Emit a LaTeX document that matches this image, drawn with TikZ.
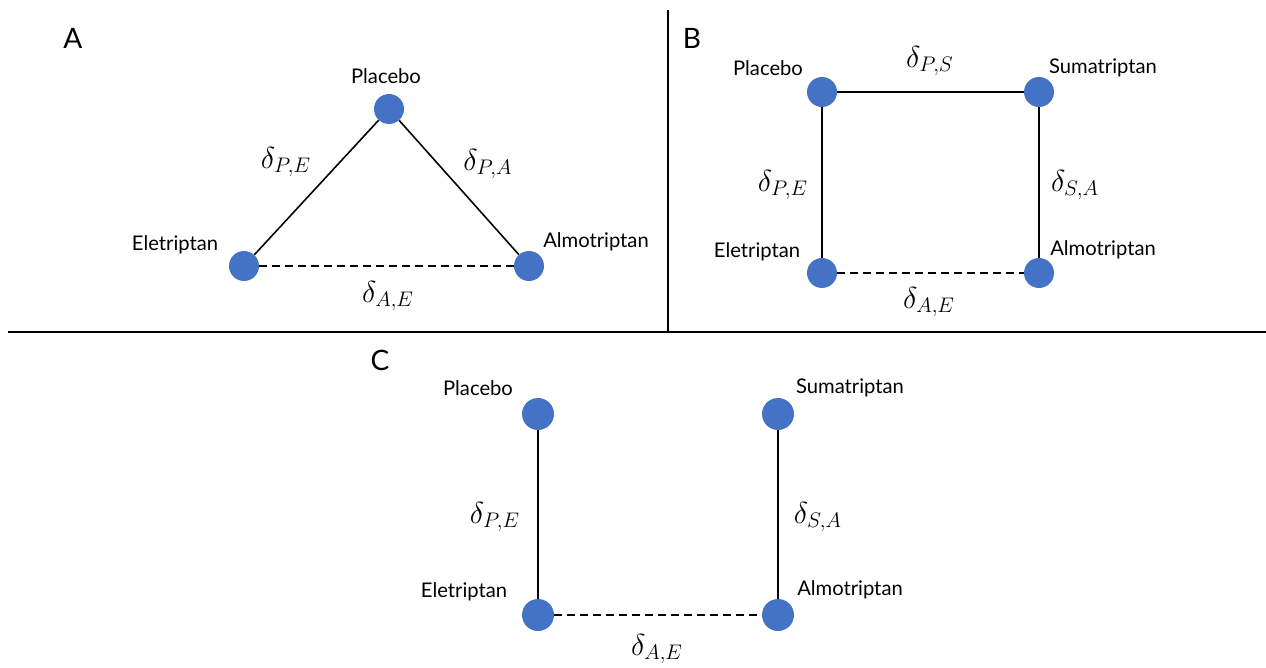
\documentclass[tikz,border=0pt]{standalone}
\usepackage{fontspec}
\setmainfont{Lato}
\usepackage{amsmath}
\usetikzlibrary{shapes.geometric, positioning}
\definecolor{NodeBlue}{RGB}{68,114,196}

\tikzset{
	drug/.style={circle, fill=NodeBlue, minimum size=0.6cm, inner sep=0pt},
	drugC/.style={circle, fill=NodeBlue, minimum size=0.64cm, inner sep=0pt},
	druglabel/.style={font=\fontsize{11.5}{13}\selectfont},
	delta/.style={font=\fontsize{16.5}{18}\selectfont},
	panel/.style={font=\fontsize{16}{18}\selectfont},
	link/.style={draw=black, line width=0.9pt},
	missing/.style={draw=black, line width=0.9pt, dash pattern=on 0.16cm off 0.1cm},
}

\begin{document}
\begin{tikzpicture}[x=0.02cm, y=-0.02cm]
	\useasboundingbox (0,0) rectangle (1266,668);
	% separadores
	\coordinate (vtop) at (668,10);
	\coordinate (vbot) at (668,332);
	\coordinate (hl) at (8,332);
	\coordinate (hr) at (1266,332);
	\draw[line width=1pt] (vtop) -- (vbot);
	\draw[line width=1pt] (hl) -- (hr);
	% panel A
	\node[panel] (lblA) at (73,38) {A};
	\node[drug] (pA) at (389,109) {};
	\node[drug] (eA) at (244,266) {};
	\node[drug] (aA) at (529,266) {};
	\node[druglabel] (tpA) at (386,76) {Placebo};
	\node[druglabel] (teA) at (175,245) {Eletriptan};
	\node[druglabel] (taA) at (596,242) {Almotriptan};
	\draw[link] (pA) -- (eA);
	\draw[link] (pA) -- (aA);
	\draw[missing] (eA) -- (aA);
	\node[delta] (dpeA) at (286,162) {$\delta_{P,E}$};
	\node[delta] (dpaA) at (488,164) {$\delta_{P,A}$};
	\node[delta] (daeA) at (388,296) {$\delta_{A,E}$};
	% panel B
	\node[panel] (lblB) at (692,38) {B};
	\node[drug] (pB) at (822,92) {};
	\node[drug] (sB) at (1039,92) {};
	\node[drug] (eB) at (822,273) {};
	\node[drug] (aB) at (1039,273) {};
	\node[druglabel] (tpB) at (768,68) {Placebo};
	\node[druglabel] (tsB) at (1103,68) {Sumatriptan};
	\node[druglabel] (teB) at (757,252) {Eletriptan};
	\node[druglabel] (taB) at (1103,250) {Almotriptan};
	\draw[link] (pB) -- (sB);
	\draw[link] (pB) -- (eB);
	\draw[link] (sB) -- (aB);
	\draw[missing] (eB) -- (aB);
	\node[delta] (dpsB) at (930,61) {$\delta_{P,S}$};
	\node[delta] (dpeB) at (783,185) {$\delta_{P,E}$};
	\node[delta] (dsaB) at (1075,185) {$\delta_{S,A}$};
	\node[delta] (daeB) at (929,302) {$\delta_{A,E}$};
	% panel C
	\node[panel] (lblC) at (380,360) {C};
	\node[drugC] (pC) at (538,414) {};
	\node[drugC] (sC) at (778,414) {};
	\node[drugC] (eC) at (538,615) {};
	\node[drugC] (aC) at (778,615) {};
	\node[druglabel] (tpC) at (478,388) {Placebo};
	\node[druglabel] (tsC) at (850,388) {Sumatriptan};
	\node[druglabel] (teC) at (464,592) {Eletriptan};
	\node[druglabel] (taC) at (850,590) {Almotriptan};
	\draw[link] (pC) -- (eC);
	\draw[link] (sC) -- (aC);
	\draw[missing] (eC) -- (aC);
	\node[delta, font=\fontsize{17.5}{19}\selectfont] (dpeC) at (495,517) {$\delta_{P,E}$};
	\node[delta, font=\fontsize{17.5}{19}\selectfont] (dsaC) at (818,517) {$\delta_{S,A}$};
	\node[delta, font=\fontsize{17.5}{19}\selectfont] (daeC) at (657,649) {$\delta_{A,E}$};
\end{tikzpicture}
\end{document}
